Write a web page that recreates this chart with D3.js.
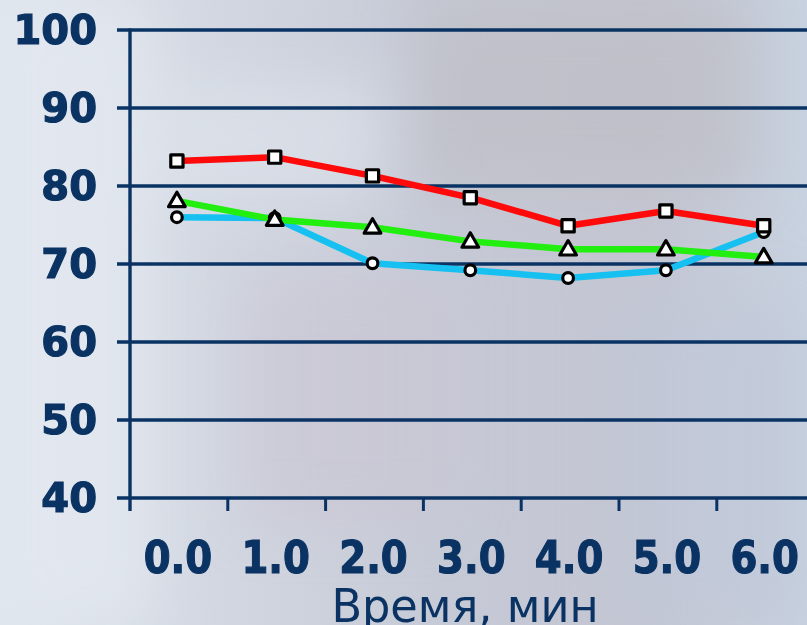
<!DOCTYPE html>
<html>
<head>
<meta charset="utf-8">
<script src="https://cdn.jsdelivr.net/npm/d3@7/dist/d3.min.js"></script>
<style>
  html, body { margin: 0; padding: 0; background: #d6dce6; }
  svg { display: block; }
</style>
</head>
<body>
<svg id="chart" width="807" height="625"></svg>
<script>
// Time points (minutes) and the three measured series
const categories = ["0.0", "1.0", "2.0", "3.0", "4.0", "5.0", "6.0"];
const seriesSquare = [83.2, 83.7, 81.3, 78.5, 74.9, 76.8, 74.9];
const seriesTriangle = [78.1, 75.7, 74.7, 72.9, 71.9, 71.9, 70.9];
const seriesCircle = [76.0, 75.9, 70.1, 69.2, 68.2, 69.2, 74.1];
const yTicks = [40, 50, 60, 70, 80, 90, 100];
const xTitle = "Время, мин";

const W = 807, H = 625;
const svg = d3.select("#chart");
const navy = "#0a3363";

// Soft, blurred backdrop
const defs = svg.append("defs");
const blur = defs.append("filter").attr("id", "soft").attr("x", "-20%").attr("y", "-20%")
  .attr("width", "140%").attr("height", "140%");
blur.append("feGaussianBlur").attr("stdDeviation", 28);

const bg = defs.append("linearGradient").attr("id", "bgGrad").attr("x1", 0).attr("x2", 1).attr("y1", 0).attr("y2", 0);
bg.append("stop").attr("offset", "0%").attr("stop-color", "#e0e6ee");
bg.append("stop").attr("offset", "25%").attr("stop-color", "#d3d8e2");
bg.append("stop").attr("offset", "55%").attr("stop-color", "#c6cad6");
bg.append("stop").attr("offset", "80%").attr("stop-color", "#c4c6d2");
bg.append("stop").attr("offset", "100%").attr("stop-color", "#c8d2e0");
svg.append("rect").attr("width", W).attr("height", H).attr("fill", "url(#bgGrad)");

const haze = svg.append("g").attr("filter", "url(#soft)");
haze.append("rect").attr("x", 0).attr("y", 0).attr("width", 150).attr("height", 625).attr("fill", "#e4e9f0").attr("opacity", 0.8);
haze.append("rect").attr("x", 420).attr("y", 0).attr("width", 330).attr("height", 190).attr("fill", "#bdbdc4").attr("opacity", 0.7);
haze.append("rect").attr("x", 250).attr("y", 280).attr("width", 200).attr("height", 240).attr("fill", "#c9c5d2").attr("opacity", 0.6);
haze.append("rect").attr("x", 160).attr("y", 80).attr("width", 220).attr("height", 120).attr("fill", "#dfe4ec").attr("opacity", 0.6);
haze.append("rect").attr("x", 620).attr("y", 300).attr("width", 187).attr("height", 325).attr("fill", "#bfc8d8").attr("opacity", 0.6);

// Scales
const x0 = 130, step = 97.8;
const x = d3.scaleBand().domain(categories).range([x0, x0 + step * categories.length]).paddingInner(0).paddingOuter(0);
const y = d3.scaleLinear().domain([40, 100]).range([498, 30]);

// Horizontal gridlines with left ticks
const grid = svg.append("g");
grid.selectAll("line").data(yTicks).join("line")
  .attr("x1", 117).attr("x2", W)
  .attr("y1", d => y(d)).attr("y2", d => y(d))
  .attr("stroke", navy).attr("stroke-width", 3.4);

// Y axis line
svg.append("line").attr("x1", x0).attr("x2", x0).attr("y1", y(100) - 1.5).attr("y2", 511)
  .attr("stroke", navy).attr("stroke-width", 3.4);

// X ticks at band boundaries
const tickPos = categories.slice(1).map(c => x(c));
svg.append("g").selectAll("line").data(tickPos).join("line")
  .attr("x1", d => d).attr("x2", d => d).attr("y1", y(40)).attr("y2", 511)
  .attr("stroke", navy).attr("stroke-width", 3);

// Y tick labels
svg.append("g").selectAll("text").data(yTicks).join("text")
  .attr("x", 97).attr("y", d => y(d) + 14)
  .attr("text-anchor", "end")
  .attr("font-family", "DejaVu Sans, Verdana, sans-serif")
  .attr("font-weight", "bold").attr("font-size", 40)
  .attr("fill", navy).attr("stroke", navy).attr("stroke-width", 1.2)
  .text(d => d);

// X tick labels (slightly condensed)
svg.append("g").selectAll("text").data(categories).join("text")
  .attr("text-anchor", "middle")
  .attr("font-family", "DejaVu Sans, Verdana, sans-serif")
  .attr("font-weight", "bold").attr("font-size", 45)
  .attr("fill", navy).attr("stroke", navy).attr("stroke-width", 1.2)
  .attr("transform", d => `translate(${x(d) + x.bandwidth() / 2 - 1},573) scale(0.86,1)`)
  .text(d => d);

// Axis title
svg.append("text")
  .attr("text-anchor", "middle")
  .attr("font-family", "DejaVu Sans, Verdana, sans-serif")
  .attr("font-size", 47)
  .attr("fill", navy)
  .attr("transform", `translate(465,622) scale(0.95,1)`)
  .text(xTitle);

// Series lines and markers
const cx = c => x(c) + x.bandwidth() / 2 - 2;
const line = d3.line().x((d, i) => cx(categories[i])).y(d => y(d));

const series = [
  { values: seriesCircle, color: "#16c0f0", marker: "circle" },
  { values: seriesTriangle, color: "#22ee10", marker: "triangle" },
  { values: seriesSquare, color: "#ff0a0a", marker: "square" }
];

series.forEach(s => {
  svg.append("path").datum(s.values)
    .attr("d", line)
    .attr("fill", "none").attr("stroke", s.color)
    .attr("stroke-width", 6.5).attr("stroke-linejoin", "round");
});

series.forEach(s => {
  const g = svg.append("g");
  const sym = s.marker === "circle" ? d3.symbolCircle : s.marker === "triangle" ? d3.symbolTriangle : d3.symbolSquare;
  const size = s.marker === "circle" ? 90 : s.marker === "triangle" ? 120 : 150;
  g.selectAll("path").data(s.values).join("path")
    .attr("d", d3.symbol().type(sym).size(size))
    .attr("transform", (d, i) => `translate(${cx(categories[i])},${y(d) + (s.marker === "triangle" ? 1 : 0)})`)
    .attr("fill", "#ffffff").attr("stroke", "#000000")
    .attr("stroke-width", 3.2).attr("stroke-linejoin", "round");
});
</script>
</body>
</html>
